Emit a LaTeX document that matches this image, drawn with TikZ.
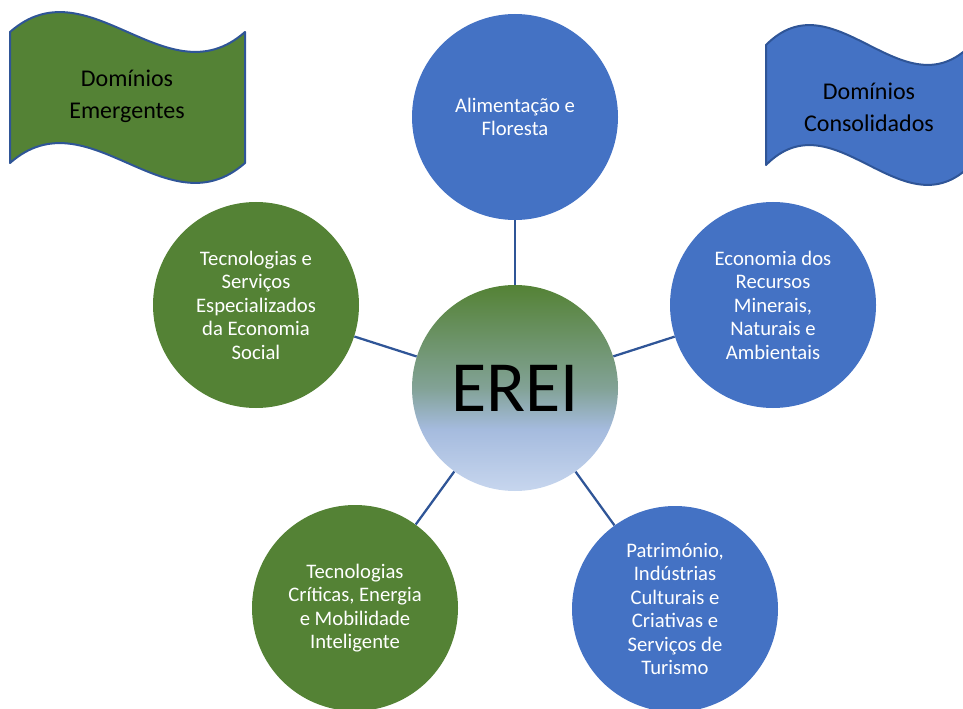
\documentclass[tikz,border=0pt]{standalone}
\usepackage{fontspec}
\setmainfont{Carlito}
\definecolor{obl}{HTML}{4472C4}
\definecolor{ogr}{HTML}{548235}
\definecolor{odk}{HTML}{2F5597}
\definecolor{gA}{HTML}{548235}
\definecolor{gB}{HTML}{82A296}
\definecolor{gC}{HTML}{A5BBDE}
\definecolor{gD}{HTML}{C7D6EE}
\pgfdeclareverticalshading{ereish}{100bp}{color(0bp)=(gD); color(25bp)=(gD); color(40bp)=(gC); color(50bp)=(gB); color(75bp)=(gA); color(100bp)=(gA)}
\begin{document}
\begin{tikzpicture}[x=0.75pt,y=-0.75pt,
  bub/.style={circle,minimum size=154.5pt,inner sep=0pt,align=center,text=white,
    font=\fontsize{15.5}{17.6}\selectfont},
  flagline/.style={draw=odk,line width=1.5pt,line join=round},
  flagtext/.style={align=center,text=black,font=\fontsize{18}{24}\selectfont},
  conn/.style={draw=odk,line width=1.7pt}]
\useasboundingbox (0,0) rectangle (963,709);
% flags
\path[flagline,fill=ogr] (10,32) .. controls (88.3,-37) and (166.7,101) .. (245,32)
  -- (245,163) .. controls (166.7,232) and (88.3,94) .. (10,163) -- cycle;
\node[flagtext] (fl) at (127,96) {Domínios\\Emergentes};
\path[flagline,fill=obl] (766,45) .. controls (834.3,-24) and (902.7,114) .. (971,45)
  -- (971,165) .. controls (902.7,234) and (834.3,96) .. (766,165) -- cycle;
\node[flagtext] (fr) at (869,107) {Domínios\\Consolidados};
% circles
\node[bub,fill=obl] (t) at (515,117) {Alimentação e\\Floresta};
\node[bub,fill=ogr] (l) at (256,305) {Tecnologias e\\Serviços\\Especializados\\da Economia\\Social};
\node[bub,fill=obl] (r) at (773,305) {Economia dos\\Recursos\\Minerais,\\Naturais e\\Ambientais};
\node[bub,fill=ogr] (bl) at (355,608) {Tecnologias\\Críticas, Energia\\e Mobilidade\\Inteligente};
\node[bub,fill=obl] (br) at (675,609) {Património,\\Indústrias\\Culturais e\\Criativas e\\Serviços de\\Turismo};
\node[circle,minimum size=154.5pt,inner sep=0pt,shading=ereish,
  font=\fontsize{54}{60}\selectfont] (c) at (515,388) {EREI};
% connectors
\draw[conn] (c) -- (t);
\draw[conn] (c) -- (l);
\draw[conn] (c) -- (r);
\draw[conn] (c) -- (bl);
\draw[conn] (c) -- (br);
\end{tikzpicture}
\end{document}
